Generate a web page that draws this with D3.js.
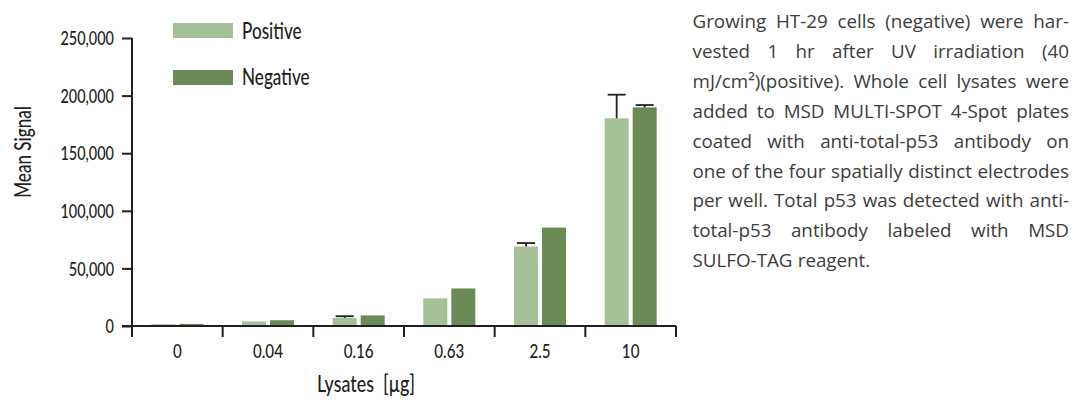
<!DOCTYPE html>
<html><head><meta charset="utf-8">
<script src="https://cdn.jsdelivr.net/npm/d3@7"></script>
<style>
body{margin:0;background:#fff;}
svg{display:block;}
</style></head>
<body>
<svg id="chart" width="1072" height="403"></svg>
<script>
const categories = ["0","0.04","0.16","0.63","2.5","10"];
const seriesNames = ["Positive","Negative"];
const positiveValues = [1600, 4000, 7000, 24000, 69000, 180300];
const negativeValues = [1800, 5000, 9200, 32600, 85400, 189800];
const positiveErrors = [0, 0, 1500, 0, 3000, 20500];
const negativeErrors = [0, 0, 0, 0, 0, 2000];
const yTicks = [0, 50000, 100000, 150000, 200000, 250000];
const yLabel = "Mean Signal";
const xLabel = "Lysates  [\u00b5g]";
const paragraphLines = [
  "Growing HT-29 cells (negative) were har-",
  "vested 1 hr after UV irradiation (40",
  "mJ/cm\u00b2)(positive). Whole cell lysates were",
  "added to MSD MULTI-SPOT 4-Spot plates",
  "coated with anti-total-p53 antibody on",
  "one of the four spatially distinct electrodes",
  "per well. Total p53 was detected with anti-",
  "total-p53 antibody labeled with MSD",
  "SULFO-TAG reagent."
];

(function(){
const colors = {Positive:"#a6c197", Negative:"#6b8a55"};
const ink = "#231f20";
const chartFont = "Lato,'Open Sans',sans-serif";
const chartWeight = 500;
const textFont = "'Open Sans','Noto Sans',sans-serif";
const squeeze = 0.76;

function condense(sel, f){
  sel.each(function(){
    const L = this.getComputedTextLength();
    d3.select(this).attr("textLength", L*f).attr("lengthAdjust","spacingAndGlyphs");
  });
}

const svg = d3.select("#chart");
const mLeft = 132, mRight = 676, mTop = 38, mBottom = 326;

const x0 = d3.scaleBand().domain(categories).range([mLeft, mRight]);
const bw = x0.bandwidth();
const x1 = d3.scaleBand().domain(seriesNames)
  .range([bw/2 - 26, bw/2 + 26]).paddingInner(1 - 24/28);
const y = d3.scaleLinear().domain([0, 250000]).range([mBottom, mTop]);

const data = categories.map((c,i)=>({cat:c, vals:[
  {s:"Positive", v:positiveValues[i], e:positiveErrors[i]},
  {s:"Negative", v:negativeValues[i], e:negativeErrors[i]}
]}));

const g = svg.append("g");
const groups = g.selectAll("g.cat").data(data).join("g")
  .attr("transform", d=>`translate(${x0(d.cat)},0)`);
groups.selectAll("rect").data(d=>d.vals).join("rect")
  .attr("x", d=>x1(d.s)).attr("width", x1.bandwidth())
  .attr("y", d=>y(d.v)).attr("height", d=>y(0)-y(d.v))
  .attr("fill", d=>colors[d.s]);

groups.selectAll("g.err").data(d=>d.vals.filter(v=>v.e>0)).join("g")
  .each(function(d){
    const cx = x1(d.s) + x1.bandwidth()/2;
    const sel = d3.select(this);
    sel.append("line").attr("x1",cx).attr("x2",cx)
      .attr("y1",y(d.v)).attr("y2",y(d.v+d.e))
      .attr("stroke",ink).attr("stroke-width",1.8);
    sel.append("line").attr("x1",cx-9).attr("x2",cx+9)
      .attr("y1",y(d.v+d.e)).attr("y2",y(d.v+d.e))
      .attr("stroke",ink).attr("stroke-width",1.8);
  });

const yAxis = d3.axisLeft(y).tickValues(yTicks).tickSize(10).tickPadding(8)
  .tickFormat(d3.format(","));
const yg = svg.append("g").attr("transform",`translate(${mLeft},0)`).call(yAxis);
yg.select(".domain").attr("d",`M0,${mTop}V${mBottom}`).attr("stroke",ink).attr("stroke-width",2);
yg.selectAll(".tick line").attr("stroke",ink).attr("stroke-width",2);
yg.selectAll(".tick text").attr("font-family",chartFont).attr("font-weight",chartWeight)
  .attr("font-size",19).attr("fill",ink).attr("dy","0.35em").call(condense, squeeze);

const boundaries = categories.map(c=>x0(c)).concat([mRight]);
const xg = svg.append("g").attr("transform",`translate(0,${mBottom})`);
xg.append("line").attr("x1",mLeft-10).attr("x2",mRight).attr("y1",0).attr("y2",0)
  .attr("stroke",ink).attr("stroke-width",2);
xg.selectAll("line.tk").data(boundaries).join("line").attr("class","tk")
  .attr("x1",d=>d).attr("x2",d=>d).attr("y1",0).attr("y2",11)
  .attr("stroke",ink).attr("stroke-width",2);
xg.selectAll("text").data(categories).join("text")
  .attr("x",d=>x0(d)+bw/2).attr("y",32)
  .attr("text-anchor","middle").attr("font-family",chartFont).attr("font-weight",chartWeight)
  .attr("font-size",20).attr("fill",ink).text(d=>d).call(condense, squeeze);

svg.append("text").attr("transform","translate(31,152) rotate(-90)")
  .attr("text-anchor","middle").attr("font-family",chartFont).attr("font-weight",chartWeight)
  .attr("font-size",22.5).attr("fill",ink).text(yLabel).call(condense, squeeze);
svg.append("text").attr("x",366).attr("y",392)
  .attr("text-anchor","middle").attr("font-family",chartFont).attr("font-weight",chartWeight)
  .attr("font-size",23.5).attr("fill",ink).style("white-space","pre").text(xLabel).call(condense, squeeze);

const lg = svg.append("g");
seriesNames.forEach((s,i)=>{
  lg.append("rect").attr("x",173).attr("y",23+i*47).attr("width",60).attr("height",15)
    .attr("fill",colors[s]);
  lg.append("text").attr("x",242).attr("y",39+i*46).attr("font-family",chartFont)
    .attr("font-weight",chartWeight).attr("font-size",22.5).attr("fill",ink).text(s).call(condense, squeeze);
});

const pLeft = 692.5, pRight = 1069, pTop = 28, lh = 29.9;
const pg = svg.append("g").attr("font-family",textFont).attr("font-size",18.8).attr("fill","#3c3c3c");
paragraphLines.forEach((line,li)=>{
  const words = line.split(" ");
  const yy = pTop + li*lh;
  const nodes = words.map(w=>pg.append("text").attr("y",yy).text(w));
  const widths = nodes.map(n=>n.node().getComputedTextLength());
  const total = d3.sum(widths);
  const isLast = li === paragraphLines.length-1;
  const gap = isLast ? 5.2 : (pRight - pLeft - total)/(words.length-1);
  let cx = pLeft;
  nodes.forEach((n,i)=>{ n.attr("x",cx); cx += widths[i] + gap; });
});
})();
</script>
</body></html>
